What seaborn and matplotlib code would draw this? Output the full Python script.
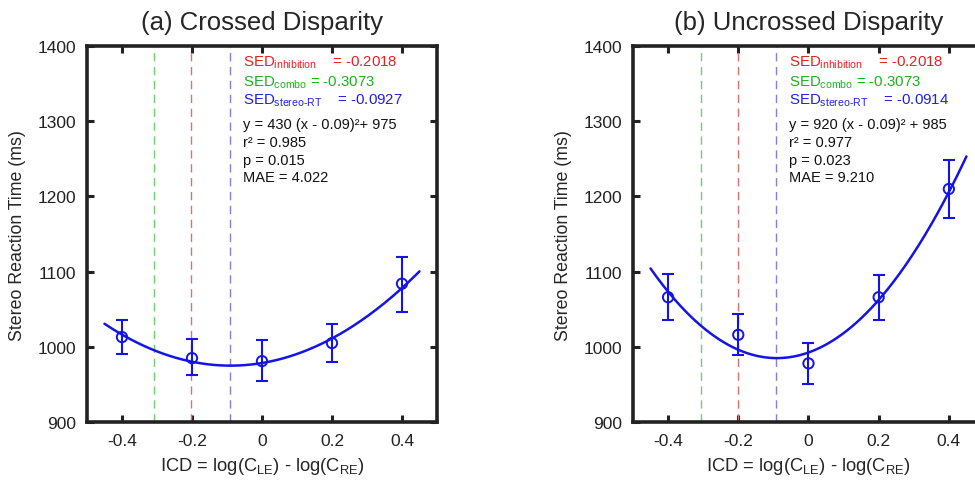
import numpy as np
import pandas as pd
import matplotlib
matplotlib.use('Agg')
import matplotlib.pyplot as plt
import seaborn as sns

# ICD levels shared by both panels
icd = [-0.4, -0.2, 0.0, 0.2, 0.4]

# (a) crossed disparity: mean RT and error bar limits (ms)
crossed_rt = [1013, 985, 981, 1005, 1084]
crossed_lo = [991, 962, 954, 980, 1047]
crossed_hi = [1036, 1010, 1009, 1031, 1120]

# (b) uncrossed disparity
uncrossed_rt = [1066, 1016, 978, 1066, 1210]
uncrossed_lo = [1036, 989, 951, 1036, 1171]
uncrossed_hi = [1097, 1044, 1005, 1095, 1248]

# quadratic fits: a * (x - x0)^2 + c, vertex at SED stereo-RT
crossed_fit = (430, -0.09, 975)
uncrossed_fit = (920, -0.09, 985)

# SED markers
sed_inhibition = -0.2018
sed_combo = -0.3073
sed_stereo = [-0.0927, -0.0914]

titles = ['(a) Crossed Disparity', '(b) Uncrossed Disparity']
fit_text = [
    ['y = 430 (x - 0.09)²+ 975', 'r² = 0.985', 'p = 0.015', 'MAE = 4.022'],
    ['y = 920 (x - 0.09)² + 985', 'r² = 0.977', 'p = 0.023', 'MAE = 9.210'],
]

sns.set_theme(style='white')
plt.rcParams['font.family'] = ['Liberation Sans', 'DejaVu Sans']
plt.rcParams['mathtext.fontset'] = 'custom'
plt.rcParams['mathtext.rm'] = 'Liberation Sans'
plt.rcParams['mathtext.it'] = 'Liberation Sans'

BLUE = '#1414e6'

fig = plt.figure(figsize=(9.75, 4.85), dpi=100)
ax1 = fig.add_axes([0.0892, 0.1278, 0.359, 0.775])
ax2 = fig.add_axes([0.6492, 0.1278, 0.360, 0.775])

panels = [
    (ax1, crossed_rt, crossed_lo, crossed_hi, crossed_fit),
    (ax2, uncrossed_rt, uncrossed_lo, uncrossed_hi, uncrossed_fit),
]

for i, (ax, rt, lo, hi, fit) in enumerate(panels):
    a, x0, c = fit
    xs = np.linspace(-0.45, 0.45, 200)
    curve = pd.DataFrame({'x': xs, 'y': a * (xs - x0) ** 2 + c})

    ax.axvline(sed_combo, color='#70d070', lw=1.0, ls=(0, (6, 4)))
    ax.axvline(sed_inhibition, color='#e07070', lw=1.0, ls=(0, (6, 4)))
    ax.axvline(sed_stereo[i], color='#8080e8', lw=1.0, ls=(0, (6, 4)))

    sns.lineplot(data=curve, x='x', y='y', ax=ax, color=BLUE, lw=1.8)

    rt = np.array(rt)
    yerr = [rt - np.array(lo), np.array(hi) - rt]
    ax.errorbar(icd, rt, yerr=yerr, fmt='none', ecolor=BLUE, elinewidth=1.5,
                capsize=4, capthick=1.5)
    sns.scatterplot(x=icd, y=rt, ax=ax, marker='o', s=55, facecolor='none',
                    edgecolor=BLUE, linewidth=1.4, zorder=5)

    ax.set_xlim(-0.5, 0.5)
    ax.set_ylim(900, 1400)
    ax.set_xticks(icd)
    ax.set_xticklabels(['-0.4', '-0.2', '0', '0.2', '0.4'])
    ax.set_yticks([900, 1000, 1100, 1200, 1300, 1400])
    ax.tick_params(direction='in', length=5, width=2.2, labelsize=12.5,
                   top=True, right=True, bottom=True, left=True, pad=8,
                   colors='#222222', labelcolor='#222222')
    for sp in ax.spines.values():
        sp.set_linewidth(2.6)
        sp.set_color('#222222')
    ax.set_title(titles[i], fontsize=18.5, pad=12)
    ax.set_xlabel('ICD = log(C$_{\\mathrm{LE}}$) - log(C$_{\\mathrm{RE}}$)',
                  fontsize=13.2, labelpad=5)
    ax.set_ylabel('Stereo Reaction Time (ms)', fontsize=12.8, labelpad=8)

    tx = -0.055
    ax.text(tx, 1379, 'SED$_{\\mathrm{inhibition}}$    = -0.2018', color='#e82020',
            fontsize=10.8, va='center')
    ax.text(tx, 1353, 'SED$_{\\mathrm{combo}}$ = -0.3073', color='#20b020',
            fontsize=10.8, va='center')
    ax.text(tx, 1328, 'SED$_{\\mathrm{stereo\\text{-}RT}}$    = %.4f' % sed_stereo[i],
            color='#2020e0', fontsize=10.8, va='center')
    for j, line in enumerate(fit_text[i]):
        ax.text(tx, 1296 - j * 23.5, line, color='#111111', fontsize=10.5,
                va='center')

fig.savefig('out.png', dpi=100)
